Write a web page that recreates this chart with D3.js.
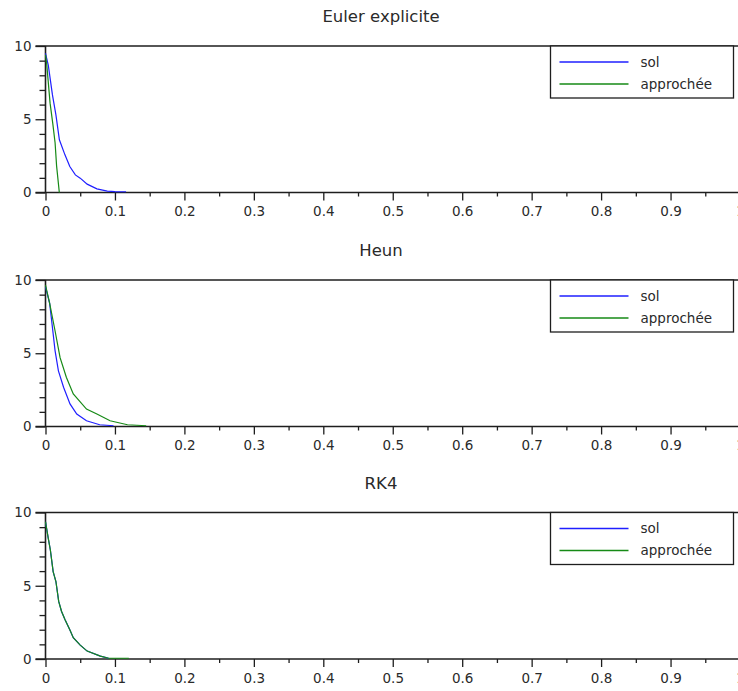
<!DOCTYPE html>
<html>
<head>
<meta charset="utf-8">
<script src="https://cdn.jsdelivr.net/npm/d3@7/dist/d3.min.js"></script>
<style>
  html, body { margin: 0; padding: 0; background: #fff; }
  svg { display: block; font-family: "DejaVu Sans", sans-serif; }
</style>
</head>
<body>
<svg id="chart" width="738" height="691"></svg>
<script>
// ---- data ----
const titles = ["Euler explicite", "Heun", "RK4"];
const legendLabels = ["sol", "approchée"];
const xTicks = [0, 0.1, 0.2, 0.3, 0.4, 0.5, 0.6, 0.7, 0.8, 0.9, 1];
const xTickLabels = ["0", "0.1", "0.2", "0.3", "0.4", "0.5", "0.6", "0.7", "0.8", "0.9", "1"];
const yTicks = [0, 5, 10];
const yTickLabels = ["0", "5", "10"];

// Euler explicite
const eulerSolT = [0, 0.004, 0.010, 0.015, 0.020, 0.028, 0.035, 0.043, 0.050, 0.060, 0.074, 0.089, 0.100, 0.116];
const eulerSolY = [9.5, 8.7, 6.66, 5.3, 3.6, 2.57, 1.77, 1.2, 0.98, 0.57, 0.25, 0.1, 0.06, 0.05];
const eulerAppT = [0, 0.0017, 0.0066, 0.0105, 0.0138, 0.016, 0.0199];
const eulerAppY = [9.4, 8.8, 6.1, 4.7, 3.4, 1.8, 0.0];

// Heun
const heunSolT = [0, 0.006, 0.011, 0.0137, 0.0186, 0.026, 0.0353, 0.045, 0.059, 0.078, 0.098];
const heunSolY = [9.54, 8.4, 6.34, 5.2, 3.8, 2.68, 1.54, 0.85, 0.39, 0.12, 0.05];
const heunAppT = [0, 0.006, 0.0136, 0.021, 0.030, 0.040, 0.059, 0.074, 0.093, 0.118, 0.145];
const heunAppY = [9.65, 8.4, 6.57, 4.7, 3.36, 2.22, 1.19, 0.85, 0.39, 0.12, 0.05];

// RK4
const rk4SolT = [0, 0.004, 0.007, 0.011, 0.015, 0.019, 0.023, 0.028, 0.035, 0.040, 0.050, 0.060, 0.079, 0.091];
const rk4SolY = [9.36, 8.24, 7.44, 5.97, 5.29, 3.93, 3.26, 2.69, 2.0, 1.45, 0.95, 0.54, 0.2, 0.05];
const rk4AppT = [0, 0.004, 0.007, 0.011, 0.015, 0.019, 0.023, 0.028, 0.035, 0.040, 0.050, 0.060, 0.079, 0.091, 0.120];
const rk4AppY = [9.36, 8.24, 7.44, 5.97, 5.29, 3.93, 3.26, 2.69, 2.0, 1.45, 0.95, 0.54, 0.2, 0.05, 0.05];

const panels = [
  { title: titles[0], sol: [eulerSolT, eulerSolY], app: [eulerAppT, eulerAppY] },
  { title: titles[1], sol: [heunSolT, heunSolY], app: [heunAppT, heunAppY] },
  { title: titles[2], sol: [rk4SolT, rk4SolY], app: [rk4AppT, rk4AppY] }
];

// ---- layout ----
const W = 738;
const panelTops = [46, 280, 512.5];
const panelH = 146.5;
const x0 = 45.5, x1 = 740;
const colors = ["#1f1fff", "#168a16"];
const axisColor = "#1e1e1e";
const textColor = "#2a2a2a";

const svg = d3.select("#chart");
const x = d3.scaleLinear().domain([0, 1]).range([x0, x1]);
const line = d3.line().x(d => x(d[0]));

panels.forEach((p, i) => {
  const top = panelTops[i];
  const y = d3.scaleLinear().domain([0, 10]).range([top + panelH, top]);
  const g = svg.append("g");

  // title
  g.append("text")
    .attr("x", 381).attr("y", top - 24)
    .attr("text-anchor", "middle")
    .attr("font-size", 16.5)
    .attr("fill", textColor)
    .text(p.title);

  // top line
  g.append("line")
    .attr("x1", x0 - 10).attr("x2", W)
    .attr("y1", y(10)).attr("y2", y(10))
    .attr("stroke", axisColor).attr("stroke-width", 1.6);

  // bottom axis: minor ticks
  const xMinor = d3.range(0, 1.0001, 0.05).filter(v => Math.abs(v * 10 - Math.round(v * 10)) > 1e-6);
  const gxm = g.append("g").attr("transform", `translate(0,${y(0)})`)
    .call(d3.axisBottom(x).tickValues(xMinor).tickSize(4).tickFormat(""));
  // bottom axis: major ticks
  const gx = g.append("g").attr("transform", `translate(0,${y(0)})`)
    .call(d3.axisBottom(x).tickValues(xTicks).tickSize(8).tickPadding(6)
      .tickFormat((d, k) => xTickLabels[k]));
  [gxm, gx].forEach(a => {
    a.select(".domain").remove();
    a.selectAll(".tick line").attr("stroke", axisColor).attr("stroke-width", 1.3);
  });
  gx.selectAll("text").attr("font-size", 13.5).attr("fill", textColor)
    .attr("font-family", "DejaVu Sans, sans-serif");
  g.append("line")
    .attr("x1", x0 - 10).attr("x2", W)
    .attr("y1", y(0)).attr("y2", y(0))
    .attr("stroke", axisColor).attr("stroke-width", 1.6);

  // left axis
  const yMinor = d3.range(1, 10).filter(v => v !== 5);
  const gym = g.append("g").attr("transform", `translate(${x0},0)`)
    .call(d3.axisLeft(y).tickValues(yMinor).tickSize(6).tickFormat(""));
  const gy = g.append("g").attr("transform", `translate(${x0},0)`)
    .call(d3.axisLeft(y).tickValues(yTicks).tickSize(10).tickPadding(4)
      .tickFormat((d, k) => yTickLabels[k]));
  [gym, gy].forEach(a => {
    a.select(".domain").remove();
    a.selectAll(".tick line").attr("stroke", axisColor).attr("stroke-width", 1.3);
  });
  gy.selectAll("text").attr("font-size", 13.5).attr("fill", textColor)
    .attr("font-family", "DejaVu Sans, sans-serif");
  g.append("line")
    .attr("x1", x0).attr("x2", x0)
    .attr("y1", y(10)).attr("y2", y(0))
    .attr("stroke", axisColor).attr("stroke-width", 1.6);

  // curves
  const ln = line.y(d => y(d[1]));
  const solPts = p.sol[0].map((t, k) => [t, p.sol[1][k]]);
  const appPts = p.app[0].map((t, k) => [t, p.app[1][k]]);
  g.append("path").datum(solPts).attr("d", ln)
    .attr("fill", "none").attr("stroke", colors[0]).attr("stroke-width", 1.2);
  g.append("path").datum(appPts).attr("d", ln)
    .attr("fill", "none").attr("stroke", colors[1]).attr("stroke-width", 1.2);

  // legend
  const lx = 550.5, lw = 183, lh = 52;
  const lg = g.append("g").attr("transform", `translate(${lx},${top})`);
  lg.append("rect").attr("x", 0).attr("y", 0).attr("width", lw).attr("height", lh)
    .attr("fill", "#fff").attr("stroke", axisColor).attr("stroke-width", 1.3);
  legendLabels.forEach((lab, k) => {
    const ly = 16 + k * 22;
    lg.append("line").attr("x1", 9).attr("x2", 78).attr("y1", ly).attr("y2", ly)
      .attr("stroke", colors[k]).attr("stroke-width", 1.3);
    lg.append("text").attr("x", 90).attr("y", ly).attr("dy", "0.35em")
      .attr("font-size", 13.5).attr("fill", textColor).text(lab);
  });
});
</script>
</body>
</html>
